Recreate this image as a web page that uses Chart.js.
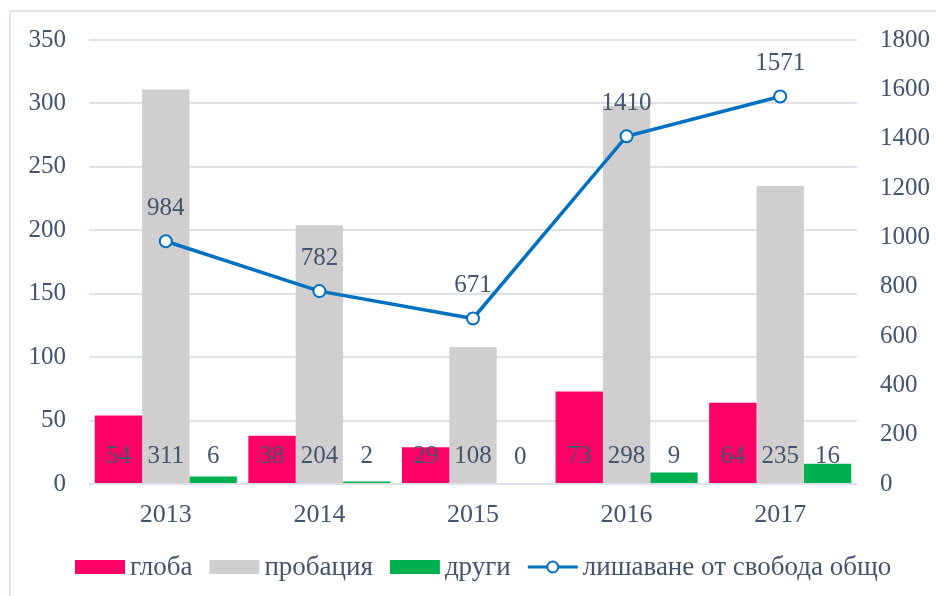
<!DOCTYPE html>
<html>
<head>
<meta charset="utf-8">
<script src="https://cdn.jsdelivr.net/npm/chart.js@4"></script>
<style>
  html, body { margin: 0; padding: 0; background: #ffffff; }
  #wrap { position: relative; width: 936px; height: 596px; overflow: hidden; }
  #frame { position: absolute; left: 9px; top: 10px; width: 1000px; height: 700px; border: 2px solid #e1e5eb; box-sizing: border-box; }
  canvas { position: absolute; left: 0; top: 0; }
</style>
</head>
<body>
<div id="wrap">
  <div id="frame"></div>
  <canvas id="c" width="936" height="596"></canvas>
</div>
<script>
const categories = ['2013', '2014', '2015', '2016', '2017'];
const fineValues = [54, 38, 29, 73, 64];
const probationValues = [311, 204, 108, 298, 235];
const otherValues = [6, 2, 0, 9, 16];
const prisonTotal = [984, 782, 671, 1410, 1571];
const seriesNames = ['глоба', 'пробация', 'други', 'лишаване от свобода общо'];
const leftTicks = [0, 50, 100, 150, 200, 250, 300, 350];
const rightTicks = [0, 200, 400, 600, 800, 1000, 1200, 1400, 1600, 1800];

const FONT = '"Liberation Serif", "Times New Roman", serif';
const TEXT = '#44546a';
const GRID = '#dde1e8';

const labelPlugin = {
  id: 'valueLabels',
  afterDatasetsDraw(chart) {
    const ctx = chart.ctx;
    ctx.save();
    ctx.font = '25px ' + FONT;
    ctx.fillStyle = TEXT;
    ctx.textAlign = 'center';
    ctx.textBaseline = 'middle';
    chart.data.datasets.forEach((ds, i) => {
      const meta = chart.getDatasetMeta(i);
      meta.data.forEach((el, j) => {
        const v = ds.data[j];
        if (ds.type === 'line') {
          ctx.fillText(String(v), el.x, el.y - 33);
        } else {
          ctx.fillText(String(v), el.x, el.base - 27);
        }
      });
    });
    ctx.restore();
  }
};

const legendPlugin = {
  id: 'customLegend',
  afterDraw(chart) {
    const ctx = chart.ctx;
    ctx.save();
    ctx.font = '27px ' + FONT;
    ctx.textBaseline = 'middle';
    ctx.textAlign = 'left';
    const cy = 567;
    let x = 75;
    chart.data.datasets.forEach((ds) => {
      const w = 50;
      if (ds.type === 'line') {
        ctx.strokeStyle = ds.borderColor;
        ctx.lineWidth = 3;
        ctx.beginPath();
        ctx.moveTo(x, cy);
        ctx.lineTo(x + w, cy);
        ctx.stroke();
        ctx.beginPath();
        ctx.arc(x + w / 2, cy, 5.5, 0, Math.PI * 2);
        ctx.fillStyle = '#ffffff';
        ctx.fill();
        ctx.lineWidth = 2;
        ctx.stroke();
      } else {
        ctx.fillStyle = ds.backgroundColor;
        ctx.fillRect(x, cy - 7, w, 14);
      }
      x += w + 5;
      ctx.fillStyle = TEXT;
      ctx.fillText(ds.label, x, cy + 1);
      x += ctx.measureText(ds.label).width + 17;
    });
    ctx.restore();
  }
};

new Chart(document.getElementById('c'), {
  data: {
    labels: categories,
    datasets: [
      { type: 'bar', label: seriesNames[0], data: fineValues, backgroundColor: '#ff0066', yAxisID: 'y', order: 2 },
      { type: 'bar', label: seriesNames[1], data: probationValues, backgroundColor: '#d0cece', yAxisID: 'y', order: 2 },
      { type: 'bar', label: seriesNames[2], data: otherValues, backgroundColor: '#00b050', yAxisID: 'y', order: 2 },
      { type: 'line', label: seriesNames[3], data: prisonTotal, borderColor: '#0070c0', borderWidth: 3.5,
        pointRadius: 6, pointBorderWidth: 2, pointBackgroundColor: '#ffffff', pointBorderColor: '#0070c0',
        yAxisID: 'y2', order: 1, tension: 0 }
    ]
  },
  options: {
    responsive: false,
    animation: false,
    devicePixelRatio: 1,
    layout: { padding: { top: 40, bottom: 52, left: 0, right: 0 } },
    datasets: { bar: { categoryPercentage: 0.925, barPercentage: 1.0 } },
    plugins: { legend: { display: false }, tooltip: { enabled: false } },
    scales: {
      x: {
        grid: { display: false, drawTicks: false },
        border: { display: false },
        ticks: { color: TEXT, font: { family: FONT, size: 26 }, padding: 16 },
        afterFit(s) { s.height = 60; }
      },
      y: {
        position: 'left', min: 0, max: 350,
        afterBuildTicks(s) { s.ticks = leftTicks.map(v => ({ value: v })); },
        grid: { color: GRID, lineWidth: 2, drawTicks: false },
        border: { display: false },
        ticks: { color: TEXT, font: { family: FONT, size: 25 }, padding: 23, callback: v => String(v) },
        afterFit(s) { s.width = 89; }
      },
      y2: {
        position: 'right', min: 0, max: 1800,
        afterBuildTicks(s) { s.ticks = rightTicks.map(v => ({ value: v })); },
        grid: { display: false, drawTicks: false },
        border: { display: false },
        ticks: { color: TEXT, font: { family: FONT, size: 25 }, padding: 23, callback: v => String(v) },
        afterFit(s) { s.width = 79; }
      }
    }
  },
  plugins: [labelPlugin, legendPlugin]
});
</script>
</body>
</html>
